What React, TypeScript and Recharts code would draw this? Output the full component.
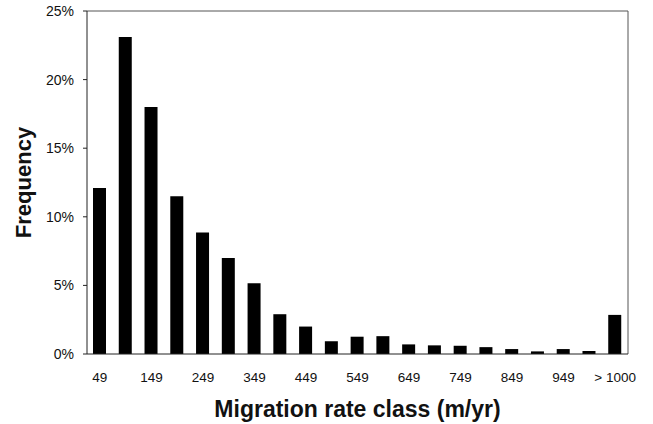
import React from "react";
import * as R from "recharts";
import { BarChart, Bar, XAxis, YAxis, Label } from "recharts";

const categories = ["49", "99", "149", "199", "249", "299", "349", "399", "449", "499", "549", "599", "649", "699", "749", "799", "849", "899", "949", "999", "> 1000"];
const frequency = [12.1, 23.1, 18.0, 11.5, 8.85, 7.0, 5.15, 2.9, 2.0, 0.93, 1.26, 1.3, 0.7, 0.63, 0.6, 0.5, 0.36, 0.19, 0.36, 0.22, 2.85];
const yTicks = [0, 5, 10, 15, 20, 25];

const data = categories.map((c, i) => ({ cat: c, freq: frequency[i] }));

function Frame() {
  const hook = (R as any).usePlotArea || (R as any).useOffset;
  const area = hook ? hook() : null;
  if (!area) return null;
  const x = area.x ?? area.left;
  const y = area.y ?? area.top;
  const w = area.width;
  const h = area.height;
  if (x == null || w == null) return null;
  return (
    <g>
      <line x1={x} y1={y} x2={x + w} y2={y} stroke="#555" strokeWidth={1} />
      <line x1={x + w} y1={y} x2={x + w} y2={y + h} stroke="#555" strokeWidth={1} />
    </g>
  );
}

export default function App() {
  const font = "'Liberation Sans', Arial, sans-serif";
  return (
    <div style={{ position: "absolute", left: 0, top: 0, background: "#fff" }}>
      <BarChart
        width={653}
        height={424}
        data={data}
        margin={{ top: 11, right: 25, bottom: 40, left: 0 }}
      >
        <XAxis
          dataKey="cat"
          interval={1}
          height={30}
          stroke="#222"
          tickLine={false}
          tickMargin={12}
          tick={{ fill: "#111", fontSize: 13.5, fontFamily: font }}
        >
          <Label
            value="Migration rate class (m/yr)"
            position="insideBottom"
            offset={-33}
            style={{ fontSize: 23, fontWeight: "bold", fill: "#111", fontFamily: font }}
          />
        </XAxis>
        <YAxis
          width={87}
          domain={[0, 25]}
          ticks={yTicks}
          tickFormatter={(v: number) => `${v}%`}
          stroke="#222"
          tickSize={4}
          tickMargin={9}
          tick={{ fill: "#111", fontSize: 14, fontFamily: font }}
        >
          <Label
            value="Frequency"
            angle={-90}
            position="insideLeft"
            offset={23}
            style={{ fontSize: 22, fontWeight: "bold", fill: "#111", fontFamily: font, textAnchor: "middle" }}
          />
        </YAxis>
        <Bar dataKey="freq" fill="#000000" barSize={13} isAnimationActive={false} />
        <Frame />
      </BarChart>
    </div>
  );
}
